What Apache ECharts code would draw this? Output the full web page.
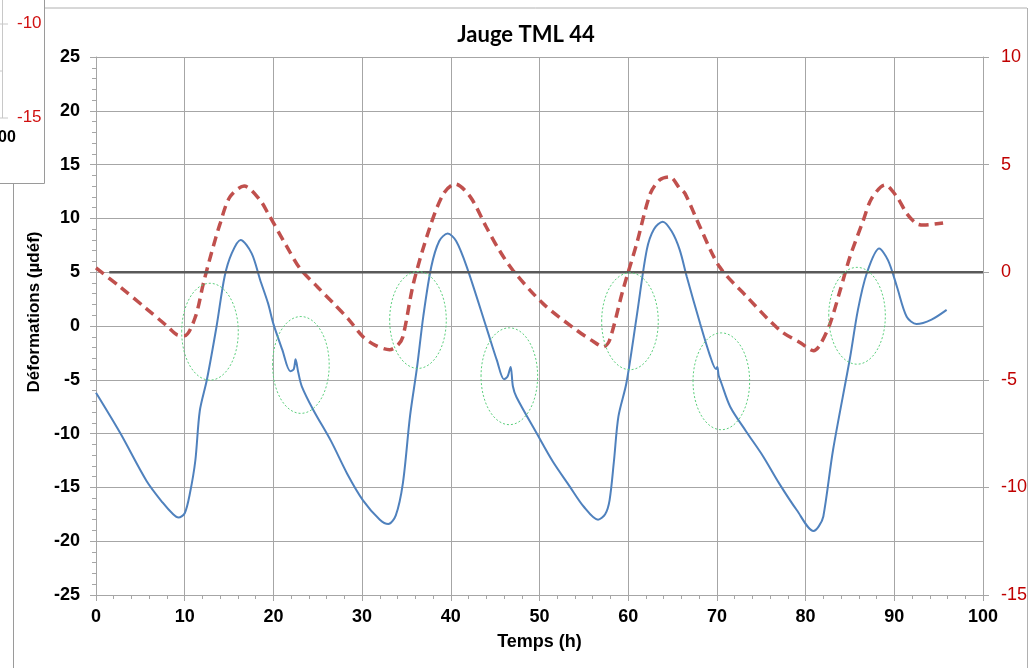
<!DOCTYPE html>
<html>
<head>
<meta charset="utf-8">
<script src="https://cdn.jsdelivr.net/npm/echarts@6/dist/echarts.min.js"></script>
<style>
  html, body { margin: 0; padding: 0; background: #fff; }
  #main { width: 1030px; height: 668px; }
</style>
</head>
<body>
<div id="main"></div>
<script>
// blue gauge strain, left axis (µdéf)
let strainData = [
  [0, -6.2], [2.7, -9.9], [5.7, -14.4], [7.5, -16.4], [8.7, -17.5], [9.3, -17.8], [10, -17.4],
  [10.6, -15.5], [11.2, -12.5], [11.7, -7.9], [12.5, -5.0], [13.6, 0], [14.5, 4.6],
  [15.3, 6.75], [16.3, 8.0], [17.55, 6.75], [18.5, 4.3], [19.4, 2.1], [20, 0.2],
  [21, -2.2], [21.9, -4.2], [22.3, -4.0], [22.5, -3.1], [22.8, -4.3], [23.2, -5.6], [24.5, -7.8],
  [26.5, -10.7], [28.3, -13.7], [30.1, -16.2], [32, -18.0], [32.96, -18.4], [33.8, -17.6],
  [34.6, -14.6], [35.4, -8.4], [36.2, -3.8], [36.9, 0.9], [37.8, 5.5], [38.7, 7.9], [39.65, 8.6],
  [40.6, 7.9], [41.8, 5.5], [44, -0.1], [45.2, -3.2], [46, -4.95], [46.4, -4.7], [46.75, -3.8],
  [47, -5.6], [47.4, -6.6], [49.7, -10], [51.5, -12.6], [53.4, -14.9], [55, -16.8], [56.6, -18.0],
  [57.4, -17.5], [57.9, -16.2], [58.4, -12.5], [58.9, -8.4], [59.8, -5.3], [60.96, 0.9],
  [62.1, 7.1], [62.9, 9.0], [63.9, 9.7], [64.9, 8.8], [65.8, 7.1], [66.6, 4.6], [68.1, 0.25],
  [69.2, -2.7], [69.9, -4.0], [70.05, -3.8], [70.2, -4.6], [70.5, -5.3], [71.5, -7.5],
  [73.3, -9.8], [75.2, -12.1], [77, -14.6], [79, -17.1], [80.9, -19.05], [81.5, -18.6],
  [82, -17.7], [83.1, -11.5], [85, -3.0], [85.9, 1.5], [86.9, 4.9], [88.3, 7.2], [89.3, 6.1],
  [90.3, 3.65], [91.4, 0.86], [92.5, 0.19], [94.2, 0.6], [95.9, 1.5]
];

// red dashed curve, right axis
let redData = [
  [0, 0.2], [2.7, -0.68], [5.7, -1.7], [8, -2.5], [9.1, -2.9], [10, -2.95], [11.2, -2.08],
  [12.1, -0.53], [13, 0.87], [14, 2.27], [15.1, 3.5], [16.7, 4.0], [18.5, 3.35], [19.4, 2.73],
  [21.5, 1.2], [23, 0.17], [25, -0.7], [26.8, -1.46], [28.5, -2.2], [30.1, -3.0],
  [31.5, -3.4], [33.1, -3.6], [34, -3.4], [34.6, -3.0], [35.8, -0.5], [37.65, 2.1], [39.2, 3.66],
  [40.5, 4.1], [42.2, 3.5], [44, 2.1], [45.5, 1.0], [47, 0.09], [50.4, -1.46], [54.2, -2.7],
  [56, -3.2], [57.2, -3.47], [57.9, -3.16], [59.4, -0.84], [60.96, 1.33], [62.5, 3.66],
  [63.6, 4.3], [64.7, 4.43], [65.8, 3.9], [66.4, 3.66], [68.1, 2.1], [70.3, 0.25], [73.4, -1.15],
  [77.1, -2.7], [79.5, -3.3], [80.9, -3.65], [81.6, -3.4], [82.75, -2.4], [83.9, -0.84],
  [85, 0.71], [86.5, 2.4], [87.45, 3.43], [88.95, 4.05], [90.3, 3.5], [91.4, 2.73], [92.5, 2.26],
  [93.3, 2.19], [95.5, 2.29]
];

// flat reference line at 0 on the right axis
let zeroLine = [[1.5, 0], [100, 0]];

// dotted green ellipses: [centerX, centerY (left axis), radiusX, radiusY]
let ellipses = [
  [12.85, -0.53, 3.19, 4.5],
  [23.1, -3.62, 3.19, 4.5],
  [36.3, 0.56, 3.19, 4.5],
  [46.6, -4.67, 3.19, 4.5],
  [60.2, 0.44, 3.19, 4.5],
  [70.5, -5.14, 3.19, 4.5],
  [85.8, 0.95, 3.19, 4.5]
];

let leftTicks = [-25, 25, 5];
let rightTicks = [-15, 10, 5];
let xTicks = [0, 100, 10];

let chart = echarts.init(document.getElementById('main'));
let gridColor = '#a6a6a6';
let labelFont = 'Liberation Sans';

let option = {
  backgroundColor: '#fff',
  animation: false,
  title: {
    text: 'Jauge TML 44',
    left: 521,
    top: 19,
    textAlign: 'center',
    textStyle: { fontFamily: 'Lato', fontWeight: 'bold', fontSize: 22, color: '#000' }
  },
  grid: { left: 96, right: 47, top: 57, bottom: 73 },
  xAxis: {
    type: 'value',
    min: xTicks[0],
    max: xTicks[1],
    interval: xTicks[2],
    name: 'Temps (h)',
    nameLocation: 'middle',
    nameGap: 38,
    nameTextStyle: { fontFamily: labelFont, fontWeight: 'bold', fontSize: 18, color: '#000' },
    axisLine: { onZero: false, lineStyle: { color: gridColor } },
    axisTick: { length: 6, lineStyle: { color: gridColor } },
    minorTick: { show: true, splitNumber: 5, length: 4, lineStyle: { color: gridColor } },
    axisLabel: { margin: 13, fontFamily: labelFont, fontWeight: 'bold', fontSize: 18, color: '#000' },
    splitLine: { show: true, lineStyle: { color: gridColor } }
  },
  yAxis: [
    {
      type: 'value',
      min: leftTicks[0],
      max: leftTicks[1],
      interval: leftTicks[2],
      name: 'Déformations (µdéf)',
      nameLocation: 'middle',
      nameGap: 52,
      nameTextStyle: {
        fontFamily: labelFont, fontWeight: 'bold', fontSize: 17, color: '#000',
        padding: [0, 0, 0, 28]
      },
      axisLine: { show: true, onZero: false, lineStyle: { color: gridColor } },
      axisTick: { show: true, length: 6, lineStyle: { color: gridColor } },
      minorTick: { show: true, splitNumber: 5, length: 4, lineStyle: { color: gridColor } },
      axisLabel: { margin: 16, fontFamily: labelFont, fontWeight: 'bold', fontSize: 18, color: '#000' },
      splitLine: { show: true, lineStyle: { color: gridColor } }
    },
    {
      type: 'value',
      position: 'right',
      min: rightTicks[0],
      max: rightTicks[1],
      interval: rightTicks[2],
      axisLine: { show: true, onZero: false, lineStyle: { color: gridColor } },
      axisTick: { show: true, length: 6, lineStyle: { color: gridColor } },
      axisLabel: { margin: 18, fontFamily: labelFont, fontSize: 18, color: '#c00000' },
      splitLine: { show: false }
    }
  ],
  series: [
    {
      name: 'Jauge TML 44',
      type: 'line',
      yAxisIndex: 0,
      data: strainData,
      smooth: 0.3,
      showSymbol: false,
      lineStyle: { color: '#4f81bd', width: 2 },
      z: 3
    },
    {
      name: 'courbe',
      type: 'line',
      yAxisIndex: 1,
      data: redData,
      smooth: 0.3,
      showSymbol: false,
      lineStyle: { color: '#c0504d', width: 3.5, type: [10, 6] },
      z: 4
    },
    {
      name: 'zero',
      type: 'line',
      yAxisIndex: 1,
      data: zeroLine,
      showSymbol: false,
      lineStyle: { color: '#595959', width: 2.5 },
      z: 5
    },
    {
      name: 'zones',
      type: 'custom',
      yAxisIndex: 0,
      data: ellipses,
      encode: { x: 0, y: 1 },
      clip: false,
      z: 6,
      renderItem: function (params, api) {
        let c = api.coord([api.value(0), api.value(1)]);
        let s = api.size([api.value(2), api.value(3)]);
        return {
          type: 'ellipse',
          shape: { cx: c[0], cy: c[1], rx: s[0], ry: s[1] },
          style: { fill: null, stroke: '#5ccf7d', lineWidth: 1, lineDash: [2, 2] }
        };
      }
    }
  ],
  graphic: [
    // frame of the chart box
    { type: 'line', shape: { x1: 44, y1: 8, x2: 1027, y2: 8 }, style: { stroke: '#b0b0b0', lineWidth: 1 } },
    { type: 'line', shape: { x1: 13.5, y1: 183, x2: 13.5, y2: 668 }, style: { stroke: '#9a9a9a', lineWidth: 1 } },
    { type: 'line', shape: { x1: 1027.5, y1: 8, x2: 1027.5, y2: 668 }, style: { stroke: '#b0b0b0', lineWidth: 1 } },
    // piece of the neighbouring chart, top left
    { type: 'rect', shape: { x: -1, y: -1, width: 45.5, height: 184.5 }, style: { fill: '#fff', stroke: '#9a9a9a', lineWidth: 1 } },
    { type: 'line', shape: { x1: 2.5, y1: 0, x2: 2.5, y2: 118 }, style: { stroke: '#c8c8c8', lineWidth: 1 } },
    { type: 'line', shape: { x1: 0, y1: 24, x2: 8, y2: 24 }, style: { stroke: '#c8c8c8', lineWidth: 1 } },
    { type: 'line', shape: { x1: 0, y1: 71, x2: 3, y2: 71 }, style: { stroke: '#c8c8c8', lineWidth: 1 } },
    { type: 'line', shape: { x1: 0, y1: 118, x2: 8, y2: 118 }, style: { stroke: '#c8c8c8', lineWidth: 1 } },
    { type: 'text', left: 17, top: 15, style: { text: '-10', fill: '#d01010', font: '17px "Liberation Sans"' } },
    { type: 'text', left: 17, top: 109, style: { text: '-15', fill: '#d01010', font: '17px "Liberation Sans"' } },
    { type: 'text', left: -2, top: 130, style: { text: '00', fill: '#000', font: 'bold 16px "Liberation Sans"' } }
  ]
};

option && chart.setOption(option);
</script>
</body>
</html>
